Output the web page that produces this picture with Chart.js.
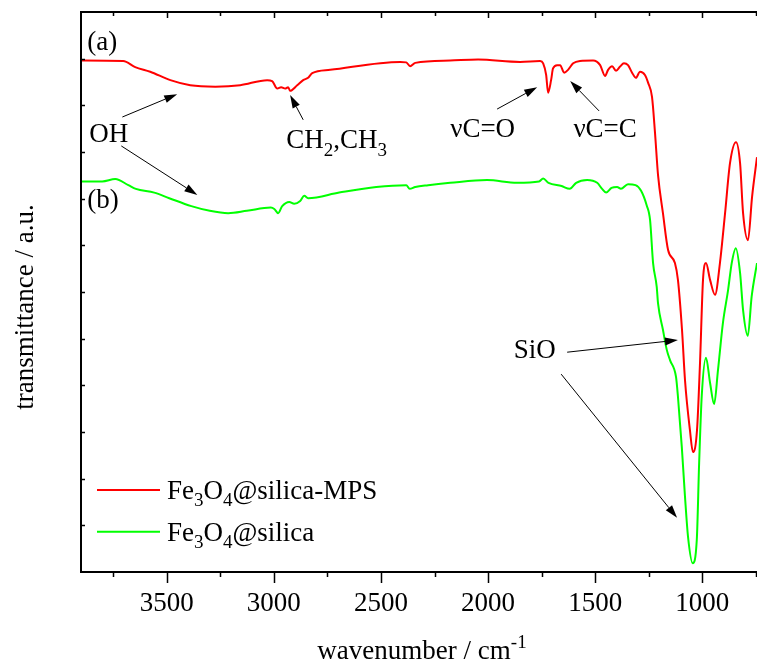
<!DOCTYPE html>
<html>
<head>
<meta charset="utf-8">
<script src="https://cdn.jsdelivr.net/npm/chart.js@4"></script>
<style>
  html, body { margin: 0; padding: 0; background: #fff; }
  canvas { display: block; }
</style>
</head>
<body>
<canvas id="ftir" width="757" height="661"></canvas>
<script>
// FT-IR spectra, wavenumber in cm-1, transmittance in arbitrary units (offset)
const wavenumberA = [3900, 3703, 3647, 3577, 3483, 3390, 3273, 3157, 3031, 3008, 2984, 2966, 2947, 2933, 2924, 2891, 2863, 2840, 2821, 2737,
  2410, 2382, 2364, 2340, 2177, 2047, 1851, 1757, 1743, 1729, 1720, 1706, 1697, 1678, 1664, 1645, 1627, 1603, 1571, 1510,
  1477, 1454, 1440, 1421, 1403, 1384, 1366, 1347, 1328, 1310, 1291, 1268, 1253, 1235, 1221, 1207, 1184, 1160, 1128, 1114,
  1095, 1081, 1058, 1044, 1025, 1011, 997, 983, 964, 941, 918, 894, 871, 843, 824, 810, 787, 768, 745];
const transA = [10.96, 10.95, 10.82, 10.72, 10.54, 10.43, 10.40, 10.43, 10.54, 10.52, 10.36, 10.39, 10.36, 10.39, 10.31, 10.43, 10.54, 10.59, 10.69, 10.76,
  10.93, 10.92, 10.84, 10.91, 10.96, 10.98, 10.93, 10.95, 10.90, 10.65, 10.27, 10.54, 10.79, 10.86, 10.86, 10.70, 10.76, 10.90, 10.95, 10.96,
  10.86, 10.63, 10.76, 10.84, 10.74, 10.83, 10.90, 10.86, 10.70, 10.59, 10.72, 10.65, 10.48, 10.18, 9.41, 8.51, 7.69, 6.90, 6.62, 6.26,
  5.19, 4.11, 3.04, 2.57, 3.04, 4.48, 6.26, 6.62, 6.26, 5.94, 6.62, 7.69, 8.76, 9.21, 8.76, 7.69, 7.11, 8.04, 8.89];

const wavenumberB = [3900, 3801, 3740, 3679, 3644, 3558, 3488, 3385, 3299, 3213, 3126, 3014, 2998, 2980, 2961, 2928, 2905, 2877, 2858, 2840,
  2695, 2522, 2382, 2366, 2340, 2280, 2177, 2005, 1865, 1762, 1743, 1718, 1657, 1619, 1589, 1538, 1491, 1468, 1449, 1424,
  1398, 1380, 1347, 1312, 1286, 1260, 1244, 1230, 1213, 1207, 1184, 1166, 1151, 1123, 1114, 1096, 1081, 1067, 1045, 1026,
  1015, 1003, 983, 964, 945, 927, 904, 880, 863, 844, 824, 810, 788, 770, 745];
const transB = [8.37, 8.37, 8.42, 8.29, 8.21, 8.13, 8.01, 7.84, 7.74, 7.69, 7.74, 7.81, 7.78, 7.69, 7.84, 7.93, 7.89, 7.95, 8.06, 8.01,
  8.13, 8.25, 8.29, 8.21, 8.25, 8.29, 8.34, 8.40, 8.34, 8.37, 8.43, 8.34, 8.27, 8.21, 8.34, 8.40, 8.34, 8.21, 8.13, 8.23,
  8.25, 8.21, 8.31, 8.29, 8.17, 7.86, 7.54, 6.62, 6.11, 5.76, 5.19, 4.76, 4.54, 4.18, 3.76, 2.68, 1.61, 0.76, 0.19, 0.69,
  2.34, 3.76, 4.59, 4.05, 3.60, 4.33, 5.34, 6.04, 6.62, 6.94, 6.41, 5.61, 5.06, 5.90, 6.62];

const xTickLabels = [3500, 3000, 2500, 2000, 1500, 1000];

// series names split into [text, 'sub'|'sup'] runs
const seriesNames = [
  [['Fe'], ['3', 'sub'], ['O'], ['4', 'sub'], ['@silica-MPS']],
  [['Fe'], ['3', 'sub'], ['O'], ['4', 'sub'], ['@silica']]
];
const seriesColors = ['#ff0000', '#00ff00'];

// band labels, placed at [wavenumber, transmittance]
const bandLabels = [
  { runs: [['(a)']], at: [3871, 11.19] },
  { runs: [['(b)']], at: [3871, 7.79] },
  { runs: [['OH']], at: [3861, 9.22] },
  { runs: [['CH'], ['2', 'sub'], [',CH'], ['3', 'sub']], at: [2942, 9.08] },
  { runs: [['\u03BDC=O']], at: [2177, 9.33] },
  { runs: [['\u03BDC=C']], at: [1602, 9.33] },
  { runs: [['SiO']], at: [1880, 4.59] }
];
// arrows: [fromWn, fromT, toWn, toT]
const bandArrows = [
  [3707, 9.75, 3451, 10.24],
  [3712, 9.13, 3357, 8.08],
  [2863, 9.69, 2924, 10.22],
  [1958, 9.92, 1771, 10.39],
  [1482, 9.88, 1617, 10.52],
  [1631, 4.71, 1114, 4.97],
  [1659, 4.24, 1118, 1.16]
];

const FONT = '"Liberation Serif", "Times New Roman", serif';
const SIZE = 27;

function drawRuns(ctx, runs, x, y, size, align) {
  const small = Math.round(size * 0.72);
  const fontFor = r => (r[1] ? small : size) + 'px ' + FONT;
  let total = 0;
  runs.forEach(r => { ctx.font = fontFor(r); total += ctx.measureText(r[0]).width; });
  let cx = align === 'center' ? x - total / 2 : x;
  ctx.textAlign = 'left';
  ctx.textBaseline = 'alphabetic';
  runs.forEach(r => {
    ctx.font = fontFor(r);
    let dy = 0;
    if (r[1] === 'sub') dy = size * 0.27;
    if (r[1] === 'sup') dy = -size * 0.42;
    ctx.fillText(r[0], cx, y + dy);
    cx += ctx.measureText(r[0]).width;
  });
}

function arrow(ctx, x0, y0, x1, y1) {
  const a = Math.atan2(y1 - y0, x1 - x0);
  const len = 13, half = 4;
  const bx = x1 - len * Math.cos(a), by = y1 - len * Math.sin(a);
  ctx.beginPath();
  ctx.moveTo(x0, y0);
  ctx.lineTo(bx, by);
  ctx.stroke();
  ctx.beginPath();
  ctx.moveTo(x1, y1);
  ctx.lineTo(bx + half * Math.sin(a), by - half * Math.cos(a));
  ctx.lineTo(bx - half * Math.sin(a), by + half * Math.cos(a));
  ctx.closePath();
  ctx.fill();
}

const decor = {
  id: 'ftirDecor',
  afterDatasetsDraw(chart) {
    const ctx = chart.ctx;
    const area = chart.chartArea;
    const xs = chart.scales.x, ys = chart.scales.y;
    ctx.save();
    ctx.fillStyle = '#000';
    ctx.strokeStyle = '#000';

    // frame (left, bottom, top)
    ctx.lineWidth = 2;
    ctx.beginPath();
    ctx.moveTo(area.right, area.top);
    ctx.lineTo(area.left, area.top);
    ctx.lineTo(area.left, area.bottom);
    ctx.lineTo(area.right, area.bottom);
    ctx.stroke();

    // x ticks: outward at bottom, inward at top; minor every 250
    ctx.lineWidth = 1.5;
    for (let v = 750; v <= 3750; v += 250) {
      const px = Math.round(xs.getPixelForValue(v)) + 0.5;
      if (px < area.left || px > area.right) continue;
      const major = v % 500 === 0;
      ctx.beginPath();
      ctx.moveTo(px, area.bottom);
      ctx.lineTo(px, area.bottom + (major ? 11 : 5));
      ctx.moveTo(px, area.top);
      ctx.lineTo(px, area.top + (major ? 6 : 4));
      ctx.stroke();
    }
    // y ticks, inward, no labels
    for (let v = ys.min + 1; v < ys.max; v += 1) {
      const py = Math.round(ys.getPixelForValue(v)) + 0.5;
      ctx.beginPath();
      ctx.moveTo(area.left, py);
      ctx.lineTo(area.left + 4, py);
      ctx.stroke();
    }

    // x tick labels
    xTickLabels.forEach(v => {
      drawRuns(ctx, [[String(v)]], xs.getPixelForValue(v), area.bottom + 39, SIZE, 'center');
    });

    // axis titles
    drawRuns(ctx, [['wavenumber / cm'], ['-1', 'sup']], 422, area.bottom + 87, SIZE, 'center');
    ctx.save();
    ctx.translate(33, 307);
    ctx.rotate(-Math.PI / 2);
    drawRuns(ctx, [['transmittance / a.u.']], 0, 0, SIZE, 'center');
    ctx.restore();

    // band labels and arrows
    bandLabels.forEach(l => {
      drawRuns(ctx, l.runs, xs.getPixelForValue(l.at[0]), ys.getPixelForValue(l.at[1]), SIZE, 'left');
    });
    ctx.lineWidth = 1;
    bandArrows.forEach(a => {
      arrow(ctx, xs.getPixelForValue(a[0]), ys.getPixelForValue(a[1]),
        xs.getPixelForValue(a[2]), ys.getPixelForValue(a[3]));
    });

    // legend
    seriesNames.forEach((runs, i) => {
      const ly = area.bottom - 82 + i * 41.7;
      ctx.strokeStyle = seriesColors[i];
      ctx.lineWidth = 2;
      ctx.beginPath();
      ctx.moveTo(area.left + 16, ly);
      ctx.lineTo(area.left + 79, ly);
      ctx.stroke();
      drawRuns(ctx, runs, area.left + 86, ly + 9, SIZE, 'left');
    });
    ctx.restore();
  }
};

new Chart(document.getElementById('ftir'), {
  type: 'line',
  data: {
    datasets: [
      {
        label: 'Fe3O4@silica-MPS',
        data: wavenumberA.map((w, i) => ({ x: w, y: transA[i] })),
        borderColor: seriesColors[0],
        borderWidth: 2,
        pointRadius: 0,
        cubicInterpolationMode: 'monotone',
        fill: false
      },
      {
        label: 'Fe3O4@silica',
        data: wavenumberB.map((w, i) => ({ x: w, y: transB[i] })),
        borderColor: seriesColors[1],
        borderWidth: 2,
        pointRadius: 0,
        cubicInterpolationMode: 'monotone',
        fill: false
      }
    ]
  },
  options: {
    responsive: false,
    animation: false,
    devicePixelRatio: 1,
    layout: { padding: { left: 81, top: 12, right: 0, bottom: 89 } },
    plugins: { legend: { display: false }, tooltip: { enabled: false } },
    scales: {
      x: { type: 'linear', reverse: true, min: 745, max: 3900, display: false },
      y: { type: 'linear', min: 0, max: 12, display: false }
    }
  },
  plugins: [decor]
});
</script>
</body>
</html>
